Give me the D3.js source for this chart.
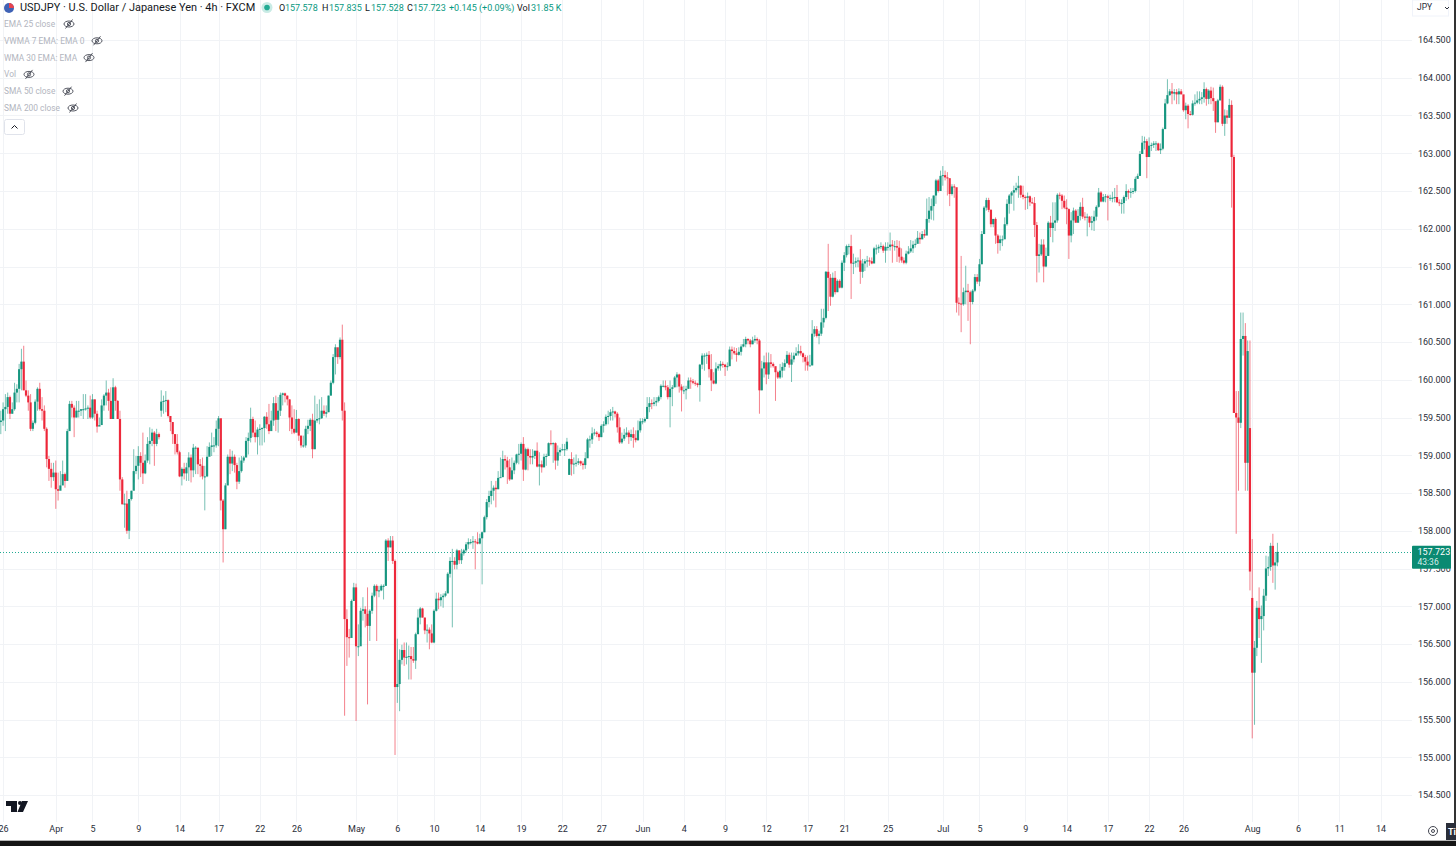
<!DOCTYPE html>
<html>
<head>
<meta charset="utf-8">
<script src="https://cdn.jsdelivr.net/npm/d3@7"></script>
<style>
  html, body { margin: 0; padding: 0; background: #fff; overflow: hidden; }
  text { font-family: Roboto, "Noto Sans", sans-serif; }
</style>
</head>
<body>
<svg id="chart"></svg>
<script>
// one row = 10 candles, 4h bars
var closes = [
159.46,159.61,159.64,159.77,159.55,159.61,159.83,159.88,160.14,160.24,
159.86,159.79,159.70,159.35,159.43,159.71,159.88,159.61,159.59,159.35,
158.95,158.82,158.71,158.77,158.55,158.53,158.60,158.75,158.66,159.32,
159.68,159.63,159.50,159.59,159.59,159.61,159.61,159.62,159.63,159.50,
159.74,159.55,159.38,159.40,159.66,159.79,159.83,159.72,159.48,159.90,
159.72,159.48,158.68,158.35,158.36,158.00,158.42,158.53,158.79,158.86,
158.99,158.90,158.76,158.93,159.15,159.19,159.30,159.15,159.28,159.24,
159.71,159.72,159.73,159.52,159.44,159.28,159.15,159.04,158.72,158.82,
158.76,158.84,158.97,158.80,159.10,159.10,158.88,158.86,158.72,158.72,
158.98,159.11,159.13,159.13,159.35,159.49,158.40,158.02,158.60,158.98,
158.89,158.98,158.87,158.65,158.79,158.93,158.97,159.19,159.23,159.48,
159.30,159.24,159.34,159.35,159.36,159.51,159.41,159.32,159.46,159.69,
159.47,159.59,159.80,159.82,159.79,159.74,159.50,159.35,159.30,159.48,
159.26,159.13,159.13,159.35,159.39,159.47,159.08,159.46,159.48,159.49,
159.59,159.55,159.57,159.79,159.96,160.30,160.43,160.30,160.53,159.59,
156.83,156.59,156.58,157.07,157.25,156.47,156.47,156.94,156.96,156.90,
156.74,156.94,157.14,157.27,157.20,157.21,157.27,157.27,157.87,157.78,
157.87,157.60,155.93,155.97,156.29,156.42,156.32,156.33,156.34,156.30,
156.28,156.63,156.85,156.97,156.85,156.68,156.69,156.64,156.52,156.94,
157.10,157.08,157.12,157.14,157.17,157.43,157.60,157.60,157.55,157.74,
157.61,157.70,157.74,157.82,157.85,157.85,157.86,157.85,157.83,157.90,
157.98,158.18,158.38,158.46,158.53,158.57,158.55,158.70,158.71,158.95,
158.93,158.84,158.68,158.80,158.90,159.01,159.02,159.15,158.81,159.08,
158.99,158.97,158.99,159.06,158.85,158.88,158.84,158.98,158.99,159.16,
159.15,159.16,158.93,159.04,159.07,159.08,159.08,159.18,158.95,158.88,
158.89,158.90,158.92,158.89,158.87,158.96,159.21,159.21,159.29,159.30,
159.28,159.24,159.39,159.41,159.51,159.52,159.57,159.58,159.55,159.37,
159.17,159.22,159.27,159.30,159.24,159.28,159.23,159.20,159.33,159.45,
159.45,159.48,159.64,159.69,159.68,159.70,159.72,159.77,159.92,159.92,
159.90,159.77,159.88,159.90,160.03,160.07,159.91,159.86,159.86,159.88,
159.99,159.98,159.96,159.95,159.93,160.20,160.32,160.32,160.33,160.14,
159.99,159.95,160.15,160.18,160.21,160.20,160.17,160.18,160.40,160.38,
160.35,160.33,160.37,160.44,160.47,160.54,160.52,160.47,160.52,160.54,
160.52,159.86,160.15,160.23,160.07,160.23,160.21,160.18,160.10,160.03,
160.12,160.17,160.22,160.33,160.20,160.27,160.32,160.35,160.38,160.35,
160.30,160.24,160.19,160.19,160.61,160.67,160.58,160.61,160.76,160.82,
161.43,161.35,161.10,161.35,161.16,161.31,161.22,161.55,161.65,161.77,
161.77,161.54,161.55,161.57,161.58,161.43,161.54,161.57,161.58,161.57,
161.54,161.74,161.74,161.76,161.77,161.71,161.76,161.76,161.79,161.77,
161.77,161.75,161.63,161.58,161.55,161.67,161.70,161.74,161.79,161.80,
161.88,161.86,161.93,161.91,162.13,162.24,162.30,162.44,162.64,162.50,
162.70,162.71,162.68,162.67,162.46,162.56,162.55,161.02,161.01,161.00,
161.16,161.18,161.16,161.03,161.18,161.36,161.30,161.53,161.93,162.28,
162.38,162.25,162.06,162.13,161.91,161.81,161.86,161.86,162.06,162.33,
162.44,162.48,162.51,162.54,162.57,162.45,162.42,162.41,162.43,162.35,
162.34,162.05,161.64,161.66,161.79,161.50,161.64,162.08,162.01,162.08,
162.11,162.45,162.44,162.37,162.28,162.26,161.91,162.11,162.24,162.08,
162.17,162.29,162.16,162.15,162.16,162.08,162.10,162.16,162.29,162.48,
162.36,162.42,162.43,162.41,162.41,162.41,162.42,162.35,162.34,162.34,
162.42,162.50,162.48,162.49,162.50,162.66,162.70,162.99,163.14,163.16,
162.95,163.10,163.11,163.13,163.13,163.04,163.06,163.32,163.66,163.77,
163.82,163.79,163.81,163.78,163.82,163.78,163.57,163.63,163.52,163.51,
163.66,163.67,163.70,163.72,163.74,163.85,163.72,163.83,163.73,163.69,
163.41,163.70,163.88,163.39,163.50,163.47,163.64,162.95,159.56,159.50,
159.43,160.54,160.58,158.90,160.38,157.46,156.12,156.45,156.98,156.83,
156.87,157.14,157.50,157.52,157.80,157.54,157.58,157.72
];

var highs = [
159.59,159.70,159.81,159.83,159.79,159.70,159.96,159.94,160.21,160.41,
160.45,159.99,159.86,159.81,159.46,159.74,159.90,159.96,159.77,159.66,
159.37,158.99,158.90,158.90,158.93,158.77,158.79,158.93,158.77,159.35,
159.72,159.72,159.66,159.72,159.72,159.61,159.81,159.81,159.66,159.79,
159.81,159.74,159.59,159.50,159.74,159.81,159.99,159.88,159.90,160.02,
159.92,159.73,159.59,158.71,158.49,158.53,158.42,158.53,159.08,158.99,
159.12,159.04,159.30,159.01,159.24,159.37,159.35,159.32,159.35,159.30,
159.86,159.79,159.85,159.74,159.52,159.44,159.28,159.28,159.06,158.84,
158.90,158.90,159.04,159.01,159.15,159.12,159.10,158.95,158.97,158.86,
159.12,159.17,159.30,159.24,159.46,159.52,159.21,158.42,158.63,159.01,
159.08,159.06,159.01,158.90,158.97,158.99,158.99,159.24,159.30,159.63,
159.51,159.46,159.37,159.41,159.37,159.52,159.57,159.68,159.59,159.77,
159.79,159.77,159.83,159.83,159.83,159.79,159.74,159.66,159.61,159.60,
159.49,159.26,159.26,159.39,159.47,159.49,159.55,159.79,159.68,159.74,
159.77,159.66,159.66,159.79,159.99,160.34,160.47,160.34,160.56,160.73,
159.70,156.96,156.70,157.09,157.31,157.30,156.76,156.98,157.12,157.00,
157.25,156.96,157.18,157.29,157.29,157.27,157.29,157.29,157.89,157.90,
157.93,157.93,157.62,156.57,156.43,156.49,156.52,156.52,156.48,156.46,
156.46,156.65,156.96,156.99,156.98,156.85,156.76,156.72,156.76,156.96,
157.18,157.18,157.16,157.17,157.20,157.45,157.65,157.76,157.65,157.76,
157.74,157.76,157.76,157.85,157.90,157.89,157.93,157.89,157.98,157.96,
157.99,158.20,158.42,158.53,158.66,158.60,158.66,158.79,158.97,159.06,
159.00,158.98,158.95,158.97,158.93,159.02,159.15,159.17,159.24,159.10,
159.10,159.08,159.08,159.06,159.17,159.04,158.93,159.02,159.02,159.17,
159.33,159.17,159.17,159.13,159.10,159.15,159.15,159.23,158.96,159.04,
158.97,159.01,158.96,158.93,158.92,159.04,159.23,159.26,159.37,159.35,
159.32,159.30,159.41,159.45,159.54,159.59,159.61,159.64,159.59,159.57,
159.50,159.30,159.35,159.37,159.33,159.34,159.37,159.33,159.46,159.49,
159.49,159.50,159.77,159.77,159.74,159.77,159.77,159.79,159.94,159.99,
159.99,159.93,159.99,159.93,160.05,160.10,160.08,159.94,159.92,159.92,
160.03,160.03,160.01,159.99,159.96,160.21,160.35,160.35,160.36,160.38,
160.34,160.10,160.23,160.21,160.25,160.24,160.21,160.23,160.44,160.44,
160.43,160.42,160.43,160.47,160.54,160.57,160.55,160.54,160.57,160.59,
160.56,160.54,160.25,160.32,160.36,160.36,160.34,160.23,160.12,160.12,
160.21,160.23,160.27,160.38,160.36,160.36,160.36,160.43,160.47,160.45,
160.36,160.33,160.32,160.33,160.79,160.71,160.71,160.65,160.94,160.94,
161.44,161.80,161.40,161.42,161.44,161.33,161.33,161.58,161.69,161.79,
161.80,161.92,161.67,161.62,161.62,161.73,161.60,161.60,161.64,161.62,
161.62,161.76,161.79,161.79,161.82,161.79,161.82,161.82,161.95,161.85,
161.84,161.85,161.84,161.74,161.62,161.71,161.77,161.85,161.84,161.86,
161.97,161.95,161.97,161.99,162.40,162.42,162.40,162.44,162.66,162.66,
162.77,162.83,162.77,162.75,162.59,162.59,162.59,162.44,161.09,161.64,
161.22,161.51,161.27,161.18,161.20,161.40,161.40,161.60,161.97,162.30,
162.41,162.41,162.26,162.13,162.15,161.93,161.91,161.91,162.15,162.39,
162.46,162.50,162.57,162.61,162.70,162.58,162.57,162.44,162.48,162.44,
162.41,162.42,162.09,161.80,161.86,161.86,161.75,162.10,162.17,162.35,
162.35,162.47,162.48,162.46,162.44,162.39,162.27,162.22,162.28,162.26,
162.26,162.35,162.41,162.22,162.20,162.17,162.17,162.24,162.31,162.54,
162.50,162.46,162.46,162.45,162.45,162.49,162.54,162.58,162.39,162.39,
162.44,162.59,162.52,162.54,162.54,162.69,162.73,163.03,163.23,163.22,
163.19,163.21,163.14,163.16,163.16,163.14,163.13,163.34,163.72,163.98,
163.85,163.93,163.85,163.85,163.86,163.85,163.70,163.67,163.65,163.56,
163.70,163.78,163.82,163.82,163.81,163.94,163.87,163.85,163.88,163.87,
163.67,163.72,163.91,163.90,163.58,163.57,163.72,163.70,162.98,159.85,
159.85,160.89,160.89,160.75,160.52,160.52,157.89,156.54,157.07,157.25,
157.01,157.23,157.67,157.66,157.84,157.96,157.71,157.84
];

var lows = [
159.28,159.39,159.32,159.55,159.48,159.55,159.59,159.70,159.70,159.86,
159.86,159.77,159.59,159.32,159.32,159.41,159.59,159.59,159.46,159.32,
158.84,158.66,158.57,158.66,158.29,158.40,158.55,158.66,158.57,158.66,
159.35,159.50,159.24,159.50,159.50,159.52,159.48,159.59,159.48,159.48,
159.48,159.46,159.30,159.40,159.57,159.59,159.66,159.59,159.48,159.48,
159.59,159.48,158.53,158.35,158.04,157.96,157.89,158.40,158.64,158.75,
158.68,158.71,158.62,158.75,158.90,158.88,159.12,158.86,159.12,159.21,
159.51,159.55,159.57,159.50,159.32,159.15,159.01,159.01,158.71,158.60,
158.68,158.66,158.66,158.64,158.71,158.75,158.75,158.71,158.68,158.27,
158.71,159.01,158.99,159.04,159.10,159.12,158.27,157.58,158.02,158.73,
158.75,158.79,158.77,158.55,158.62,158.77,158.90,159.01,159.01,159.17,
159.24,159.17,159.01,159.13,159.13,159.17,159.35,159.28,159.39,159.39,
159.32,159.30,159.52,159.66,159.70,159.66,159.32,159.28,159.28,159.30,
159.19,159.10,159.10,159.10,159.28,159.32,158.96,159.08,159.43,159.41,
159.48,159.52,159.50,159.57,159.79,159.94,160.07,160.21,160.27,159.46,
155.55,156.21,156.32,156.59,157.07,155.48,156.34,156.59,156.81,156.72,
155.70,156.54,156.90,157.12,156.54,157.12,157.20,157.09,157.27,157.60,
157.78,157.56,155.03,155.72,155.61,156.23,156.21,156.23,156.03,156.03,
156.25,156.17,156.63,156.76,156.85,156.63,156.52,156.43,156.51,156.51,
156.93,156.96,157.00,156.98,157.12,157.18,157.38,156.72,157.49,157.49,
157.56,157.56,157.67,157.71,157.76,157.82,157.76,157.49,157.82,157.82,
157.29,157.98,158.15,158.31,158.35,158.40,158.31,158.55,158.71,158.71,
158.81,158.62,158.66,158.68,158.75,158.88,158.88,158.93,158.66,158.80,
158.80,158.88,158.88,158.95,158.84,158.60,158.77,158.84,158.86,158.99,
159.13,158.90,158.81,158.86,158.99,159.06,158.99,159.06,158.74,158.73,
158.75,158.85,158.87,158.86,158.81,158.82,158.97,159.10,159.15,159.26,
159.24,159.19,159.24,159.30,159.39,159.41,159.46,159.46,159.50,159.30,
159.15,159.15,159.19,159.24,159.15,159.19,159.10,159.17,159.19,159.30,
159.41,159.43,159.57,159.57,159.61,159.65,159.65,159.70,159.74,159.90,
159.86,159.74,159.37,159.65,159.90,159.90,159.83,159.58,159.81,159.74,
159.88,159.88,159.94,159.92,159.90,159.71,160.14,160.12,160.21,160.03,
159.85,159.94,159.94,160.12,160.12,160.16,160.05,160.12,160.18,160.27,
160.33,160.24,160.32,160.32,160.43,160.43,160.47,160.43,160.47,160.49,
160.47,159.55,159.86,160.03,159.94,160.01,160.16,160.16,159.72,160.01,
160.01,160.03,160.12,160.21,160.16,159.97,160.23,160.32,160.32,160.32,
160.23,160.12,160.12,160.19,160.19,160.57,160.56,160.47,160.58,160.69,
160.80,160.91,160.98,161.09,161.13,161.16,161.21,161.21,161.44,161.62,
161.66,161.07,161.40,161.49,161.49,161.27,161.35,161.44,161.49,161.51,
161.53,161.55,161.66,161.68,161.73,161.68,161.55,161.71,161.71,161.55,
161.71,161.56,161.55,161.55,161.53,161.53,161.66,161.68,161.68,161.75,
161.85,161.80,161.86,161.88,161.99,162.08,162.12,162.11,162.33,162.48,
162.50,162.57,162.64,162.44,162.30,162.44,162.41,160.89,160.85,160.63,
160.98,161.00,160.78,160.47,161.00,161.16,161.27,161.24,161.53,161.93,
162.24,162.22,162.02,162.02,161.80,161.67,161.71,161.77,161.93,162.04,
162.20,162.33,162.24,162.48,162.41,162.41,162.39,162.25,162.26,162.30,
162.33,161.89,161.29,161.42,161.64,161.29,161.49,161.64,161.89,161.82,
161.97,162.08,162.39,162.26,162.26,162.06,161.60,161.82,161.93,162.08,
162.08,162.11,162.13,162.11,161.90,162.02,161.98,161.97,162.11,162.28,
162.35,162.35,162.35,162.11,162.37,162.35,162.35,162.34,162.30,162.20,
162.20,162.37,162.39,162.41,162.46,162.48,162.68,162.70,162.99,163.05,
162.67,162.95,163.03,163.07,163.03,163.03,162.99,163.04,163.32,163.65,
163.76,163.65,163.70,163.65,163.65,163.78,163.55,163.45,163.33,163.50,
163.50,163.63,163.65,163.65,163.65,163.67,163.63,163.65,163.65,163.56,
163.27,163.41,163.70,163.36,163.23,163.39,163.47,162.28,159.56,157.96,
158.53,159.36,160.32,158.53,158.53,157.21,155.25,155.43,156.34,156.58,
156.25,156.68,157.07,157.40,157.47,157.31,157.22,157.53
];

// bars that opened away from the previous close
var gapBars = [70, 248, 545, 546];
var gapOpens = [159.59, 158.74, 159.36, 157.11];
var firstOpen = 159.44;

var priceTicks = [154.5, 155, 155.5, 156, 156.5, 157, 157.5, 158, 158.5, 159, 159.5, 160, 160.5, 161, 161.5, 162, 162.5, 163, 163.5, 164, 164.5];
var timeBars = [1, 24, 40, 60, 78, 95, 113, 129, 155, 173, 189, 209, 227, 245, 262, 280, 298, 316, 334, 352, 368, 387, 411, 427, 447, 465, 483, 501, 516, 546, 566, 584, 602];
var timeLabels = ["26", "Apr", "5", "9", "14", "17", "22", "26", "May", "6", "10", "14", "19", "22", "27", "Jun", "4", "9", "12", "17", "21", "25", "Jul", "5", "9", "14", "17", "22", "26", "Aug", "6", "11", "14"];

var legendNames = ["EMA 25 close", "VWMA 7 EMA: EMA 0", "WMA 30 EMA: EMA", "Vol", "SMA 50 close", "SMA 200 close"];
var legendEyeX = [69, 97, 89, 29, 68, 73];

var lastPrice = 157.723;
var upColor = "#0a9078";
var downColor = "#ec1c30";

var width = 1456;
var height = 846;
var plotRight = 1412;

var svg = d3.select("#chart")
  .attr("width", width)
  .attr("height", height);

var x = d3.scaleLinear().domain([0, 600]).range([0.8, 0.8 + 2.292 * 600]);
var y = d3.scaleLinear().domain([154.5, 164.5]).range([795, 40]);

var bars = closes.map(function(c, i) {
  var g = gapBars.indexOf(i);
  var open = g >= 0 ? gapOpens[g] : (i === 0 ? firstOpen : closes[i - 1]);
  return { i: i, open: open, close: c, high: highs[i], low: lows[i] };
});

// grid
svg.append("g").attr("class", "grid-y")
  .selectAll("line").data(priceTicks).enter().append("line")
  .attr("x1", 0).attr("x2", plotRight)
  .attr("y1", function(d) { return Math.round(y(d)) + 0.5; })
  .attr("y2", function(d) { return Math.round(y(d)) + 0.5; })
  .attr("stroke", "#f1f3f6");

svg.append("g").attr("class", "grid-x")
  .selectAll("line").data(timeBars).enter().append("line")
  .attr("x1", function(d) { return Math.round(x(d)) + 0.5; })
  .attr("x2", function(d) { return Math.round(x(d)) + 0.5; })
  .attr("y1", 0).attr("y2", 822)
  .attr("stroke", "#f1f3f6");

// price axis
var yAxis = d3.axisRight(y)
  .tickValues(priceTicks)
  .tickSize(0)
  .tickPadding(0)
  .tickFormat(d3.format(".3f"));

var yAxisG = svg.append("g")
  .attr("transform", "translate(1418,0)")
  .call(yAxis);
yAxisG.select(".domain").remove();
yAxisG.selectAll("text").attr("font-size", 9).attr("font-family", "Roboto").attr("fill", "#2a2e39");

// time axis
var xAxis = d3.axisBottom(x)
  .tickValues(timeBars)
  .tickSize(0)
  .tickPadding(0)
  .tickFormat(function(d) { return timeLabels[timeBars.indexOf(d)]; });

var xAxisG = svg.append("g")
  .attr("transform", "translate(0,826)")
  .call(xAxis);
xAxisG.select(".domain").remove();
xAxisG.selectAll("text").attr("font-size", 9).attr("font-family", "Roboto").attr("fill", "#2a2e39");

// last price line
svg.append("line")
  .attr("x1", 0).attr("x2", plotRight)
  .attr("y1", Math.round(y(lastPrice)) + 0.5).attr("y2", Math.round(y(lastPrice)) + 0.5)
  .attr("stroke", "#22ab94")
  .attr("stroke-width", 1)
  .attr("stroke-dasharray", "1 2");

// candles
svg.append("g").attr("class", "wicks")
  .selectAll("line").data(bars).enter().append("line")
  .attr("x1", function(d) { return x(d.i); })
  .attr("x2", function(d) { return x(d.i); })
  .attr("y1", function(d) { return y(d.high); })
  .attr("y2", function(d) { return y(d.low); })
  .attr("stroke", function(d) { return d.close >= d.open ? upColor : downColor; })
  .attr("stroke-width", 1)
  .attr("opacity", 0.55);

svg.append("g").attr("class", "bodies")
  .selectAll("rect").data(bars).enter().append("rect")
  .attr("x", function(d) { return x(d.i) - 1.1; })
  .attr("width", 2.2)
  .attr("y", function(d) { return y(Math.max(d.open, d.close)); })
  .attr("height", function(d) { return Math.max(1, Math.abs(y(d.open) - y(d.close))); })
  .attr("fill", function(d) { return d.close >= d.open ? upColor : downColor; })
  .attr("fill-opacity", 0.92);

// last price badge, sits over the 157.500 label
var badge = svg.append("g").attr("transform", "translate(1412," + (y(lastPrice) - 6) + ")");
badge.append("rect").attr("width", 39).attr("height", 23).attr("rx", 1).attr("fill", "#0a8a72");
badge.append("text").attr("x", 5.5).attr("y", 9).attr("font-size", 9).attr("fill", "#fff").text("157.723");
badge.append("text").attr("x", 5.5).attr("y", 19).attr("font-size", 8.5).attr("fill", "#d5eee9").text("43:36");

// header
var head = svg.append("g").attr("class", "header");
head.append("circle").attr("cx", 9).attr("cy", 8).attr("r", 5).attr("fill", "#3f62b5");
head.append("path").attr("d", "M9 3 a5 5 0 0 1 5 5 h-5 z").attr("fill", "#e8434f");
head.append("text").attr("x", 20).attr("y", 11).attr("font-size", 10.95).attr("fill", "#131722")
  .text("USDJPY · U.S. Dollar / Japanese Yen · 4h · FXCM");
head.append("circle").attr("cx", 267).attr("cy", 7.5).attr("r", 5.5).attr("fill", "#c9ebe5");
head.append("circle").attr("cx", 267).attr("cy", 7.5).attr("r", 2.8).attr("fill", "#22ab94");

var ohlcText = [
  [279, "O", "#131722"], [285, "157.578", "#089981"],
  [322, "H", "#131722"], [329, "157.835", "#089981"],
  [365, "L", "#131722"], [371, "157.528", "#089981"],
  [407, "C", "#131722"], [413, "157.723", "#089981"],
  [449, "+0.145 (+0.09%)", "#089981"],
  [517, "Vol", "#131722"], [531, "31.85 K", "#089981"]
];
head.selectAll(".ohlc").data(ohlcText).enter().append("text")
  .attr("class", "ohlc")
  .attr("x", function(d) { return d[0]; })
  .attr("y", 11)
  .attr("font-size", 9)
  .attr("fill", function(d) { return d[2]; })
  .text(function(d) { return d[1]; });

// hidden indicators
legendNames.forEach(function(name, i) {
  var ly = 24 + i * 16.8;
  svg.append("text").attr("x", 4).attr("y", ly + 3).attr("font-size", 8.4).attr("fill", "#b2b5be").text(name);
  var eye = svg.append("g").attr("transform", "translate(" + legendEyeX[i] + "," + ly + ")")
    .attr("fill", "none").attr("stroke", "#434651").attr("stroke-width", 0.9);
  eye.append("ellipse").attr("rx", 5).attr("ry", 3);
  eye.append("circle").attr("r", 1.6);
  eye.append("line").attr("x1", -3.5).attr("y1", 4.5).attr("x2", 3.5).attr("y2", -4.5);
});

svg.append("rect").attr("x", 4.5).attr("y", 119.5).attr("width", 20).attr("height", 15).attr("rx", 2)
  .attr("fill", "#fff").attr("stroke", "#e0e3eb");
svg.append("path").attr("d", "M11.5 128.5 L14.5 125.5 L17.5 128.5").attr("fill", "none").attr("stroke", "#131722");

// currency box
svg.append("rect").attr("x", 1412.5).attr("y", 0).attr("width", 36).attr("height", 16).attr("fill", "#fff").attr("stroke", "#f0f3fa");
svg.append("text").attr("x", 1417).attr("y", 10).attr("font-size", 8.5).attr("fill", "#2a2e39").text("JPY");
svg.append("path").attr("d", "M1445 7 L1447 9 L1449 7").attr("fill", "none").attr("stroke", "#2a2e39");

// logo
svg.append("path").attr("fill", "#131722")
  .attr("d", "M6 801 H17 V812 H11 V806 H6 Z M22 801 H28 L23 812 H17.5 Z");
svg.append("circle").attr("cx", 20).attr("cy", 803).attr("r", 2).attr("fill", "#131722");

// bottom right corner
svg.append("circle").attr("cx", 1433).attr("cy", 831).attr("r", 4.5).attr("fill", "none").attr("stroke", "#434651");
svg.append("circle").attr("cx", 1433).attr("cy", 831).attr("r", 1.5).attr("fill", "none").attr("stroke", "#434651");
svg.append("rect").attr("x", 1446).attr("y", 823).attr("width", 10).attr("height", 17).attr("fill", "#2a2e39");
svg.append("text").attr("x", 1448).attr("y", 835).attr("font-size", 9).attr("font-weight", 700).attr("fill", "#fff").text("Ti");

// screenshot edges
svg.append("rect").attr("x", 0).attr("y", 840).attr("width", width).attr("height", 1).attr("fill", "#b8b8b8");
svg.append("rect").attr("x", 0).attr("y", 841).attr("width", width).attr("height", 5).attr("fill", "#151515");
svg.append("rect").attr("x", 1454).attr("y", 0).attr("width", 2).attr("height", 823).attr("fill", "#333");
</script>
</body>
</html>
